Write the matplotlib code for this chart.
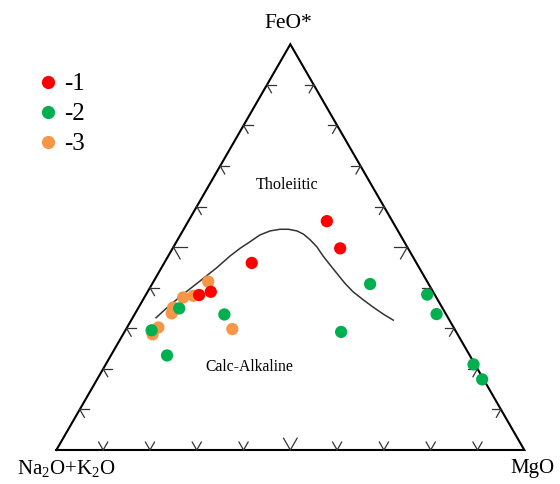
import numpy as np
import matplotlib
matplotlib.use("Agg")
import matplotlib.pyplot as plt
from matplotlib.lines import Line2D

plt.rcParams['font.family'] = ['Liberation Serif', 'DejaVu Serif']
plt.rcParams['mathtext.fontset'] = 'custom'
plt.rcParams['mathtext.rm'] = 'Liberation Serif'
plt.rcParams['mathtext.it'] = 'Liberation Serif:italic'

# Compositions in % (A = Na2O+K2O, F = FeO*, M = MgO; A = 100 - F - M)
s1_F = [56.4, 49.7, 46.1, 39.0, 38.2]
s1_M = [29.6, 35.8, 18.7, 13.5, 11.4]

s2_F = [40.9, 38.3, 33.5, 29.1, 33.4, 34.9, 29.5, 23.3, 21.1, 17.4]
s2_M = [46.6, 60.1, 64.5, 46.3, 19.2, 8.8, 5.6, 12.0, 78.6, 82.3]

s3_F = [41.5, 38.0, 37.6, 35.1, 33.7, 30.2, 28.5, 29.8]
s3_M = [11.7, 10.3, 8.3, 7.4, 7.8, 6.7, 6.3, 22.7]

# Tholeiitic / calc-alkaline boundary
curve_F = [32.6, 35.7, 38.4, 41.7, 44.9, 47.8, 49.7, 51.3, 53.0, 54.0, 54.4,
           54.4, 54.0, 53.2, 51.9, 50.1, 47.8, 45.6, 43.6, 41.1, 39.0, 37.0,
           35.2, 33.5, 32.0]
curve_M = [5.0, 6.4, 7.9, 9.9, 11.8, 13.2, 14.4, 15.7, 17.0, 18.7, 20.6,
           22.4, 24.4, 26.2, 28.2, 30.6, 33.1, 35.7, 38.1, 41.1, 43.9, 47.1,
           50.1, 53.1, 56.0]

series_labels = ['-1', '-2', '-3']
series_colors = ['#ff0000', '#00b050', '#f79646']
apex_labels = ['Na$_2$O+K$_2$O', 'FeO*', 'MgO']
field_labels = ['Tholeiitic', 'Calc-Alkaline']

H = np.sqrt(3) / 2


def tern(F, M):
    F = np.asarray(F, float) / 100.0
    M = np.asarray(M, float) / 100.0
    return M + F / 2.0, F * H


fig = plt.figure(figsize=(5.6, 4.84), dpi=100)
ax = fig.add_axes([0, 0, 1, 1])
ax.set_xlim(-0.1205, 1.0763)
ax.set_ylim(-0.0726, 0.9605)
ax.axis('off')


def px2data(px, py):
    return -0.1205 + px / 467.9, 0.9605 - py / 468.5


# triangle
tx, ty = tern([0, 100, 0, 0], [0, 0, 100, 0])
ax.plot(tx, ty, color='black', lw=1.5, solid_joinstyle='miter', zorder=2)

# ticks
Ls, Lb = 0.0195, 0.029
tick_kw = dict(color='#333333', lw=0.9, zorder=2)
for i in range(1, 10):
    t = i / 10.0
    L = Lb if i == 5 else Ls
    # bottom edge
    px, py = t, 0.0
    for d in [(-0.5, H), (0.5, H)]:
        ax.plot([px, px + L * d[0]], [py, py + L * d[1]], **tick_kw)
    # left edge
    px, py = t / 2, t * H
    for d in [(1, 0), (0.5, -H)]:
        ax.plot([px, px + L * d[0]], [py, py + L * d[1]], **tick_kw)
    # right edge
    px, py = 1 - t / 2, t * H
    for d in [(-1, 0), (-0.5, -H)]:
        ax.plot([px, px + L * d[0]], [py, py + L * d[1]], **tick_kw)

# boundary curve
cx, cy = tern(curve_F, curve_M)
ax.plot(cx, cy, color='#333333', lw=1.1, zorder=3, solid_joinstyle='round')

# data
data = [(s1_F, s1_M), (s2_F, s2_M), (s3_F, s3_M)]
zorders = [5, 6, 4]
for (F, M), c, z in zip(data, series_colors, zorders):
    x, y = tern(F, M)
    ax.scatter(x, y, s=78, color=c, edgecolors='none', zorder=z)

# apex labels
ax.text(*px2data(66, 469), apex_labels[0], ha='center', va='center', fontsize=15)
ax.text(*px2data(288, 24), apex_labels[1], ha='center', va='center', fontsize=15.5)
ax.text(*px2data(532, 469), apex_labels[2], ha='center', va='center', fontsize=15)

# field labels
ax.text(*px2data(287.5, 185), field_labels[0], ha='center', va='center', fontsize=11.6)
ax.text(*px2data(249, 366.7), field_labels[1], ha='center', va='center', fontsize=11.3)

# legend
handles = [Line2D([], [], marker='o', ls='none', color=c, markersize=9.5,
                  markeredgewidth=0) for c in series_colors]
ax.legend(handles, series_labels, loc='upper left', frameon=False,
          bbox_to_anchor=(40 / 560, 1 - 73 / 484), bbox_transform=fig.transFigure,
          fontsize=18, handlelength=0.6, handletextpad=0.35, labelspacing=0.3,
          borderpad=0, borderaxespad=0)

fig.savefig('out.png', dpi=100)
